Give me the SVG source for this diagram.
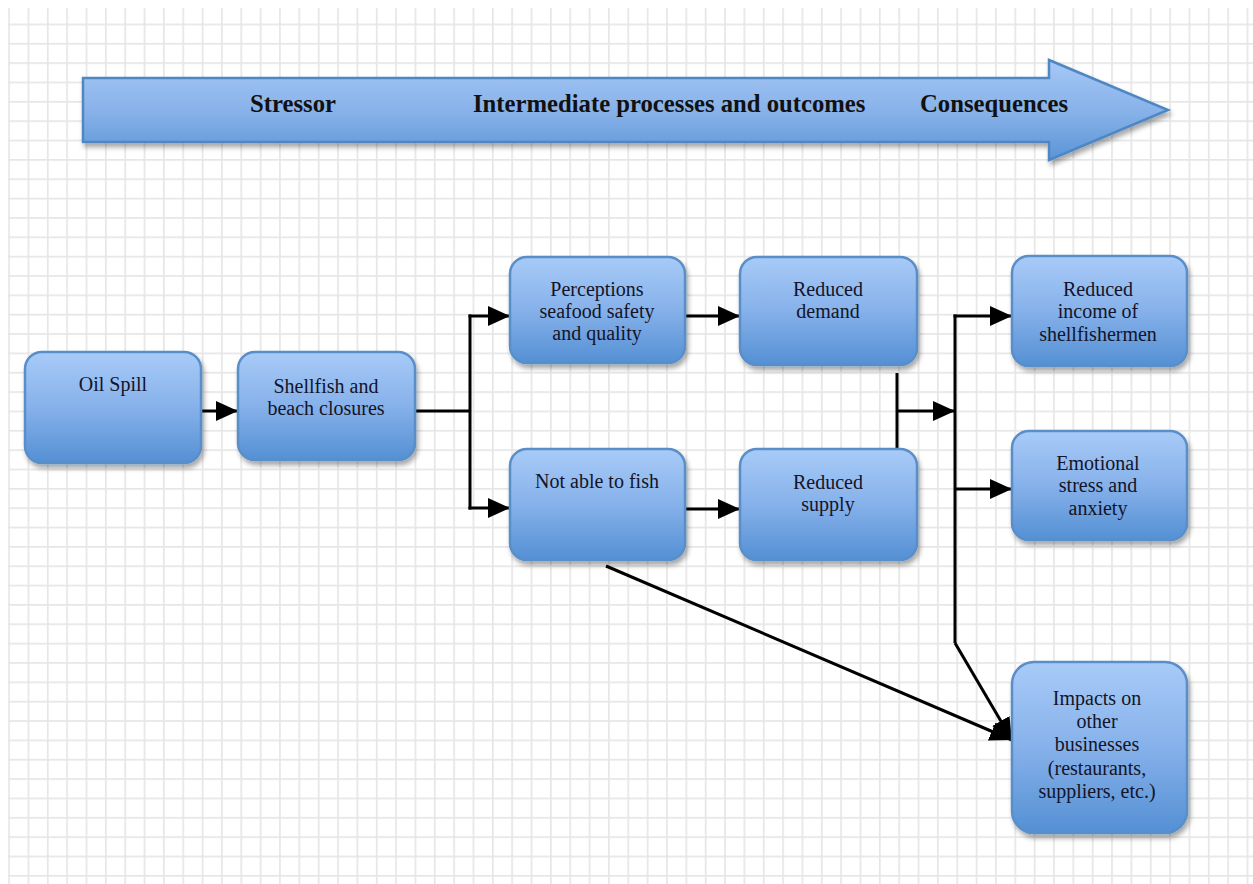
<svg xmlns="http://www.w3.org/2000/svg" width="1253" height="884" viewBox="0 0 1253 884">
<defs>
<pattern id="grid" patternUnits="userSpaceOnUse" x="8.2" y="4.2" width="19.35" height="19.35">
<rect x="0" y="0" width="1.7" height="19.35" fill="#e6e6e6"/>
<rect x="0" y="0" width="19.35" height="1.7" fill="#e6e6e6"/>
</pattern>
<linearGradient id="nodeGrad" x1="0" y1="0" x2="0" y2="1">
<stop offset="0" stop-color="#a8cbf8"/>
<stop offset="0.5" stop-color="#86b1ea"/>
<stop offset="1" stop-color="#5490d4"/>
</linearGradient>
<linearGradient id="arrowGrad" x1="0" y1="0" x2="0" y2="1">
<stop offset="0" stop-color="#a6c8f6"/>
<stop offset="0.55" stop-color="#85b0e8"/>
<stop offset="1" stop-color="#5a94d6"/>
</linearGradient>
<filter id="shadow" x="-10%" y="-10%" width="125%" height="130%">
<feDropShadow dx="2" dy="4" stdDeviation="2.5" flood-color="#000" flood-opacity="0.35"/>
</filter>
<marker id="ah" markerUnits="userSpaceOnUse" markerWidth="24" markerHeight="22" refX="22" refY="10" orient="auto">
<path d="M0,0 L22,10 L0,20 Z" fill="#000"/>
</marker>
<style>
.node rect { fill: url(#nodeGrad); stroke: #5a8ec8; stroke-width: 2.5; filter: url(#shadow); }
.node text { font-family: "Liberation Serif", "Times New Roman", serif; font-size: 20px; fill: #141428; text-anchor: middle; }
.hdr { font-family: "Liberation Serif", "Times New Roman", serif; font-size: 24.7px; font-weight: bold; fill: #111; }
.conn line, .conn path { stroke: #000; stroke-width: 3; fill: none; }
.arr { marker-end: url(#ah); }
</style>
</defs>
<rect x="0" y="0" width="1253" height="884" fill="#ffffff"/>
<rect x="8" y="8" width="1245" height="876" fill="url(#grid)"/>

<g id="timeline">
<path d="M83,78 L1049,78 L1049,60 L1168,110 L1049,160 L1049,142 L83,142 Z" fill="url(#arrowGrad)" stroke="#4f87c4" stroke-width="2.5" filter="url(#shadow)"/>
<text class="hdr" x="250" y="112">Stressor</text>
<text class="hdr" x="473" y="112">Intermediate processes and outcomes</text>
<text class="hdr" x="920" y="112">Consequences</text>
</g>

<g id="conn" class="conn">
<line class="arr" x1="201" y1="411" x2="238" y2="411"/>
<line x1="415" y1="411" x2="470" y2="411"/>
<line x1="470" y1="314.5" x2="470" y2="509.5"/>
<line class="arr" x1="468.5" y1="316" x2="510" y2="316"/>
<line class="arr" x1="468.5" y1="508" x2="510" y2="508"/>
<line class="arr" x1="685" y1="316" x2="740" y2="316"/>
<line class="arr" x1="685" y1="509" x2="740" y2="509"/>
<line x1="897" y1="373" x2="897" y2="449"/>
<line class="arr" x1="897" y1="411" x2="955" y2="411"/>
<line x1="955" y1="314.5" x2="955" y2="643"/>
<line class="arr" x1="953.5" y1="316" x2="1012" y2="316"/>
<line class="arr" x1="955" y1="489" x2="1012" y2="489"/>
<path class="arr" d="M955,643 L1012,740"/>
<line class="arr" x1="606" y1="566" x2="1012" y2="740"/>
</g>

<g id="oil-spill" class="node">
<rect x="25" y="352" width="176" height="111" rx="17"/>
<text x="113" y="391">Oil Spill</text>
</g>
<g id="closures" class="node">
<rect x="238" y="352" width="177" height="108" rx="17"/>
<text x="326" y="393">Shellfish and</text>
<text x="326" y="415">beach closures</text>
</g>
<g id="perceptions" class="node">
<rect x="510" y="257" width="175" height="106" rx="17"/>
<text x="597" y="296">Perceptions</text>
<text x="597" y="318">seafood safety</text>
<text x="597" y="340">and quality</text>
</g>
<g id="not-able" class="node">
<rect x="510" y="449" width="175" height="111" rx="17"/>
<text x="597" y="488">Not able to fish</text>
</g>
<g id="reduced-demand" class="node">
<rect x="740" y="257" width="177" height="108" rx="17"/>
<text x="828" y="296">Reduced</text>
<text x="828" y="318">demand</text>
</g>
<g id="reduced-supply" class="node">
<rect x="740" y="449" width="177" height="111" rx="17"/>
<text x="828" y="489">Reduced</text>
<text x="828" y="511">supply</text>
</g>
<g id="reduced-income" class="node">
<rect x="1012" y="256" width="175" height="110" rx="17"/>
<text x="1098" y="296">Reduced</text>
<text x="1098" y="318">income of</text>
<text x="1098" y="341">shellfishermen</text>
</g>
<g id="emotional" class="node">
<rect x="1012" y="431" width="175" height="109" rx="17"/>
<text x="1098" y="470">Emotional</text>
<text x="1098" y="492">stress and</text>
<text x="1098" y="515">anxiety</text>
</g>
<g id="impacts" class="node">
<rect x="1012" y="662" width="175" height="171" rx="22"/>
<text x="1097" y="705">Impacts on</text>
<text x="1097" y="728">other</text>
<text x="1097" y="751">businesses</text>
<text x="1097" y="775">(restaurants,</text>
<text x="1097" y="798">suppliers, etc.)</text>
</g>
</svg>
